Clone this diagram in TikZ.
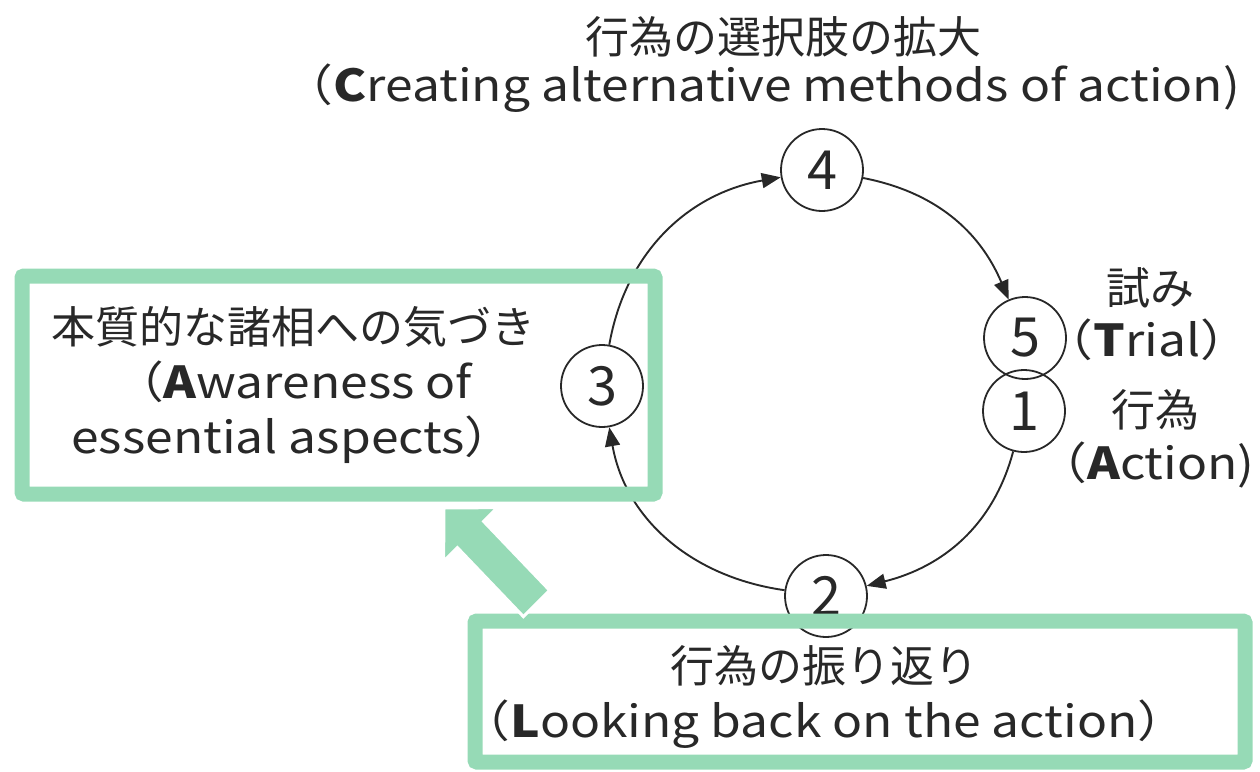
\documentclass[tikz,border=0pt]{standalone}
\usepackage{fontspec}
\setmainfont{Noto Sans CJK JP}
\newfontfamily\lat[FakeStretch=1.13]{Noto Sans CJK JP}
\usetikzlibrary{arrows.meta}
\definecolor{mint}{RGB}{150,218,182}
\definecolor{ink}{RGB}{40,40,40}
\tikzset{
  num/.style={circle,draw=ink,line width=1.8pt,minimum size=82pt,inner sep=0pt,
    font=\fontsize{54}{54}\selectfont,text=ink},
  conn/.style={draw=ink,line width=1.9pt,-{Triangle[length=19pt,width=15pt]}},
  lbl/.style={font=\fontsize{44}{55}\selectfont,text=ink,inner sep=0pt,align=center},
  gbox/.style={draw=mint,line width=15pt,rounded corners=2pt},
  garrow/.style={fill=mint,draw=white,line width=3pt,line join=miter}
}
\begin{document}
\begin{tikzpicture}[x=1pt,y=-1pt]
\useasboundingbox (0,0) rectangle (1260,771);
% circles
\node[num] (c4) at (822,170) {4};
\node[num] (c5) at (1025,338) {5};
\node[num] (c1) at (1024,411) {1};
\node[num] (c2) at (826,596) {2};
\node[num] (c3) at (602,386) {3};
% connectors
\draw[conn] (c3) to[out=80,in=190] (c4);
\draw[conn] (c4) to[out=-11,in=113] (c5);
\draw[conn] (c1) to[out=-105,in=14] (c2);
\draw[conn] (c2) to[out=172,in=-80] (c3);
% labels
\node[lbl] (t4a) at (783,37) {行為の選択肢の拡大};
\node[lbl] (t4b) at (762,88) {\lat（{\bfseries C}reating alternative methods of action)};
\node[lbl] (t5a) at (1150,288) {試み};
\node[lbl] (t5b) at (1147,340) {\lat（{\bfseries T}rial）};
\node[lbl] (t1a) at (1155,410) {行為};
\node[lbl] (t1b) at (1146,465) {\lat（{\bfseries A}ction)};
\node[lbl] (t3) at (293,385) {本質的な諸相への気づき\\{\lat（{\bfseries A}wareness of}\\{\lat essential aspects）}};
\node[lbl] (t2) at (824,697) {行為の振り返り\\{\lat（{\bfseries L}ooking back on the action）}};
% green boxes
\draw[gbox] (22,276) rectangle (655,494);
\draw[gbox] (475,621) rectangle (1245,762);
% thick green arrow
\draw[garrow] (444,508) -- (497.4,507.6) -- (483.6,521.4) -- (549.6,590.4)
  -- (523.4,616.6) -- (457.4,547.6) -- (443.6,561.4) -- cycle;
\end{tikzpicture}
\end{document}
